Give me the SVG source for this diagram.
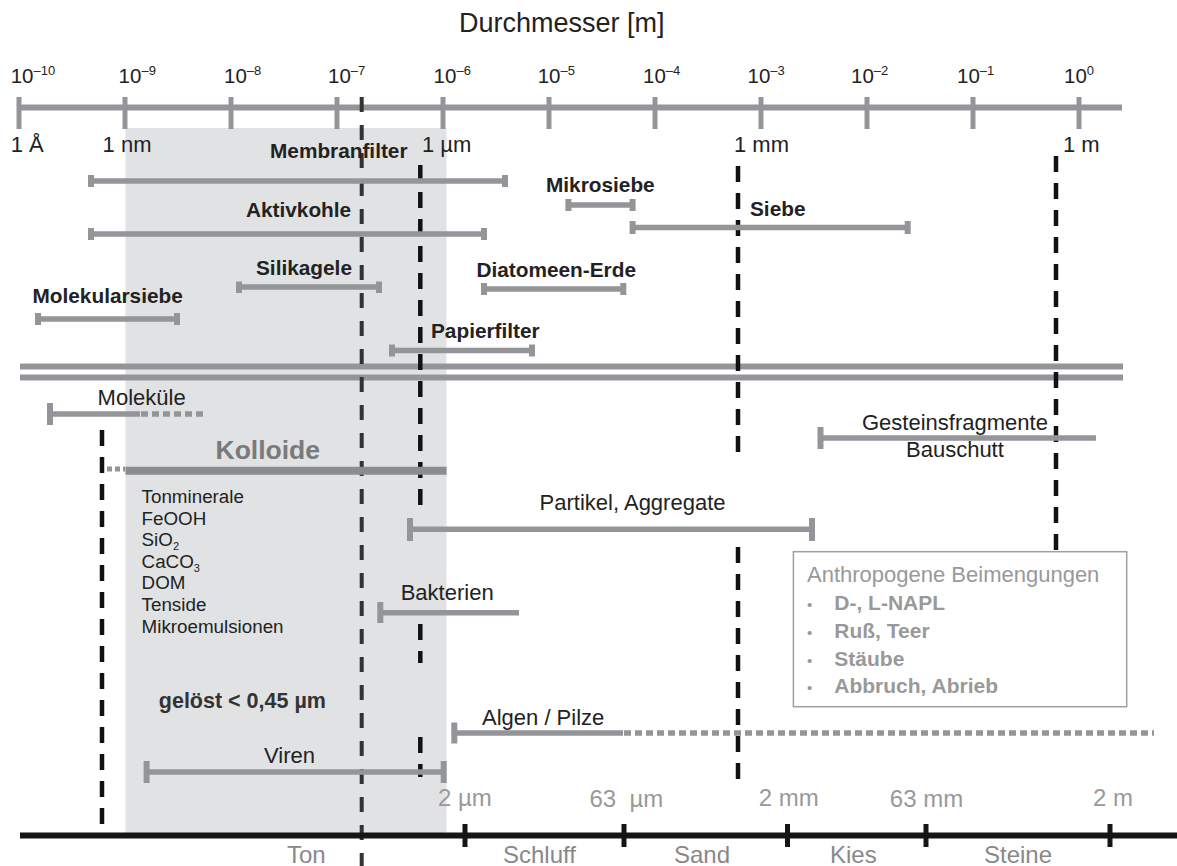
<svg xmlns="http://www.w3.org/2000/svg" width="1177" height="866" viewBox="0 0 1177 866">
<style>
text{font-family:"Liberation Sans",Arial,sans-serif;fill:#222}
.t{font-size:27px}
.exp{font-size:20.5px}
.sup{font-size:13px}
.unit{font-size:22px}
.b{font-size:20.8px;font-weight:bold}
.r{font-size:22px}
.l{font-size:18.8px}
.sub{font-size:11px}
.g{fill:#999}
.gb{font-size:21px;font-weight:bold;fill:#999}
.kol{font-size:26.5px;font-weight:bold;fill:#7a7a7a}
.bot{font-size:24px;fill:#999}
.soil{font-size:24px;fill:#888}
.bar{stroke:#939598;stroke-width:5.5;fill:none}
.cap{stroke:#939598;stroke-width:6;fill:none}
.dot{stroke:#939598;stroke-width:5.5;fill:none;stroke-dasharray:7 4}
.axis{stroke:#939598;stroke-width:6;fill:none}
.tick{stroke:#939598;stroke-width:5;fill:none}
.d1{stroke:#333;stroke-width:4;fill:none;stroke-dasharray:15 13}
.d2{stroke:#111;stroke-width:4.5;fill:none;stroke-dasharray:16 11}
.baxis{stroke:#151515;stroke-width:6;fill:none}
.btick{stroke:#151515;stroke-width:5;fill:none}
</style>

<rect id="shade" x="125.5" y="128" width="321" height="708" fill="#e1e2e4"/>

<g id="title"><text class="t" x="459" y="31.5">Durchmesser [m]</text></g>

<g id="top-axis">
<line class="axis" x1="18" y1="107.5" x2="1122" y2="107.5"/>
<path class="tick" d="M19 97V129M125 97V129M231 97V129M337 97V129M443 97V129M549 97V129M655 97V129M761 97V129M867 97V129M973 97V129M1079 97V129"/>
<text class="exp" x="10.7" y="83">10<tspan class="sup" dy="-8">–10</tspan></text>
<text class="exp" x="118.6" y="83">10<tspan class="sup" dy="-8">–9</tspan></text>
<text class="exp" x="224" y="83">10<tspan class="sup" dy="-8">–8</tspan></text>
<text class="exp" x="328" y="83">10<tspan class="sup" dy="-8">–7</tspan></text>
<text class="exp" x="433.6" y="83">10<tspan class="sup" dy="-8">–6</tspan></text>
<text class="exp" x="537.7" y="83">10<tspan class="sup" dy="-8">–5</tspan></text>
<text class="exp" x="643" y="83">10<tspan class="sup" dy="-8">–4</tspan></text>
<text class="exp" x="747.5" y="83">10<tspan class="sup" dy="-8">–3</tspan></text>
<text class="exp" x="851" y="83">10<tspan class="sup" dy="-8">–2</tspan></text>
<text class="exp" x="957" y="83">10<tspan class="sup" dy="-8">–1</tspan></text>
<text class="exp" x="1064" y="83">10<tspan class="sup" dy="-8">0</tspan></text>
<text class="unit" x="10.7" y="152">1 Å</text>
<text class="unit" x="102.6" y="152">1 nm</text>
<text class="unit" x="422" y="152">1 µm</text>
<text class="unit" x="734" y="152">1 mm</text>
<text class="unit" x="1063" y="152">1 m</text>
</g>

<g id="separator">
<line class="axis" x1="20" y1="366.5" x2="1123" y2="366.5"/>
<line class="axis" x1="20" y1="377.5" x2="1123" y2="377.5"/>
</g>

<g id="guides">
<line class="d2" x1="102" y1="430" x2="102" y2="832"/>
<line class="d1" x1="361.7" y1="97" x2="361.7" y2="866"/>
<line class="d2" x1="420.3" y1="165" x2="420.3" y2="516"/>
<line class="d2" x1="420.3" y1="624" x2="420.3" y2="663"/>
<line class="d2" x1="420.3" y1="737" x2="420.3" y2="777"/>
<line class="d2" x1="738" y1="166" x2="738" y2="460"/>
<line class="d2" x1="738" y1="547" x2="738" y2="780"/>
<line class="d2" x1="1056" y1="156" x2="1056" y2="552"/>
</g>

<g id="membranfilter">
<text class="b" x="270" y="158">Membranfilter</text>
<line class="bar" x1="91" y1="181" x2="505" y2="181"/>
<path class="cap" d="M91 175V187M505 175V187"/>
</g>
<g id="aktivkohle">
<text class="b" x="246" y="217">Aktivkohle</text>
<line class="bar" x1="91" y1="234" x2="484" y2="234"/>
<path class="cap" d="M91 228V240M484 228V240"/>
</g>
<g id="silikagele">
<text class="b" x="256" y="275">Silikagele</text>
<line class="bar" x1="239" y1="287" x2="379" y2="287"/>
<path class="cap" d="M239 281.5V293M379 281.5V293"/>
</g>
<g id="molekularsiebe">
<text class="b" x="32.5" y="303">Molekularsiebe</text>
<line class="bar" x1="38" y1="319" x2="177" y2="319"/>
<path class="cap" d="M38 313V325M177 313V325"/>
</g>
<g id="papierfilter">
<text class="b" x="431" y="338">Papierfilter</text>
<line class="bar" x1="392" y1="350.5" x2="532" y2="350.5"/>
<path class="cap" d="M392 344.5V356.5M532 344.5V356.5"/>
</g>
<g id="mikrosiebe">
<text class="b" x="546" y="191.7">Mikrosiebe</text>
<line class="bar" x1="568.4" y1="205" x2="632.6" y2="205"/>
<path class="cap" d="M568.4 199V211M632.6 199V211"/>
</g>
<g id="siebe">
<text class="b" x="750" y="216">Siebe</text>
<line class="bar" x1="632.6" y1="227.5" x2="907.7" y2="227.5"/>
<path class="cap" d="M632.6 221V234M907.7 221V234"/>
</g>
<g id="diatomeen">
<text class="b" x="476.5" y="277">Diatomeen-Erde</text>
<line class="bar" x1="484" y1="289" x2="623.3" y2="289"/>
<path class="cap" d="M484 283V295M623.3 283V295"/>
</g>

<g id="molekuele">
<text class="r" x="97.6" y="405">Moleküle</text>
<line class="bar" x1="50" y1="414" x2="140" y2="414"/>
<line class="dot" x1="141" y1="414" x2="203" y2="414"/>
<path class="cap" d="M50 403V425"/>
</g>
<g id="kolloide">
<text class="kol" x="215.5" y="459">Kolloide</text>
<line x1="125.5" y1="470.7" x2="446.6" y2="470.7" stroke="#8b8c8e" stroke-width="8"/>
<line x1="107" y1="469" x2="125" y2="469" stroke="#939598" stroke-width="5" stroke-dasharray="5 3"/>
<text class="l" x="141.6" y="503">Tonminerale</text>
<text class="l" x="141.6" y="525">FeOOH</text>
<text class="l" x="141.6" y="546">SiO<tspan class="sub" dy="3.5">2</tspan></text>
<text class="l" x="141.6" y="568">CaCO<tspan class="sub" dy="3.5">3</tspan></text>
<text class="l" x="141.6" y="589">DOM</text>
<text class="l" x="141.6" y="611">Tenside</text>
<text class="l" x="141.6" y="633">Mikroemulsionen</text>
</g>
<g id="gestein">
<text class="r" x="862" y="430">Gesteinsfragmente</text>
<text class="r" x="906" y="457">Bauschutt</text>
<line class="bar" x1="820.5" y1="438" x2="1096" y2="438"/>
<path class="cap" d="M820.5 427V449"/>
</g>
<g id="partikel">
<text class="r" x="539.6" y="510">Partikel, Aggregate</text>
<line class="bar" x1="410" y1="529.3" x2="812" y2="529.3"/>
<path class="cap" d="M410 518V541M812 518V541"/>
</g>
<g id="bakterien">
<text class="r" x="400.7" y="600">Bakterien</text>
<line class="bar" x1="380.3" y1="612.7" x2="519" y2="612.7"/>
<path class="cap" d="M380.3 602V623"/>
</g>
<g id="geloest">
<text x="158.8" y="708" style="font-size:21.5px;font-weight:bold;fill:#333">gelöst &lt; 0,45 µm</text>
</g>
<g id="algen">
<text class="r" x="482" y="725">Algen / Pilze</text>
<line class="bar" x1="454.3" y1="733" x2="623" y2="733"/>
<line class="dot" x1="624" y1="733" x2="1154" y2="733"/>
<path class="cap" d="M454.3 722.5V743.5"/>
</g>
<g id="viren">
<text class="r" x="264" y="763">Viren</text>
<line class="bar" x1="146.6" y1="772" x2="443.7" y2="772"/>
<path class="cap" d="M146.6 761V783M443.7 761V783"/>
</g>

<g id="anthropogen">
<rect x="793.4" y="551.7" width="333.3" height="155" fill="#fff" stroke="#a0a0a0" stroke-width="1.5"/>
<text class="r g" x="807" y="581.7">Anthropogene Beimengungen</text>
<text class="g" x="807" y="610" style="font-size:15px">•</text>
<text class="g" x="807" y="638" style="font-size:15px">•</text>
<text class="g" x="807" y="666" style="font-size:15px">•</text>
<text class="g" x="807" y="693" style="font-size:15px">•</text>
<text class="gb" x="834.3" y="610">D-, L-NAPL</text>
<text class="gb" x="834.3" y="638">Ruß, Teer</text>
<text class="gb" x="834.3" y="666">Stäube</text>
<text class="gb" x="834.3" y="693">Abbruch, Abrieb</text>
</g>

<g id="bottom-axis">
<text class="bot" x="438" y="805.7">2 µm</text>
<text class="bot" x="589.5" y="807" xml:space="preserve">63  µm</text>
<text class="bot" x="758.7" y="806">2 mm</text>
<text class="bot" x="889.8" y="807">63 mm</text>
<text class="bot" x="1093" y="806">2 m</text>
<line class="baxis" x1="20" y1="835.5" x2="1177" y2="835.5"/>
<path class="btick" d="M465 824V847M624 824V847M787.5 824V847M926 824V847M1110 824V847"/>
<text class="soil" x="287" y="863">Ton</text>
<text class="soil" x="503" y="863">Schluff</text>
<text class="soil" x="674" y="863">Sand</text>
<text class="soil" x="830" y="863">Kies</text>
<text class="soil" x="984" y="863">Steine</text>
</g>
</svg>
